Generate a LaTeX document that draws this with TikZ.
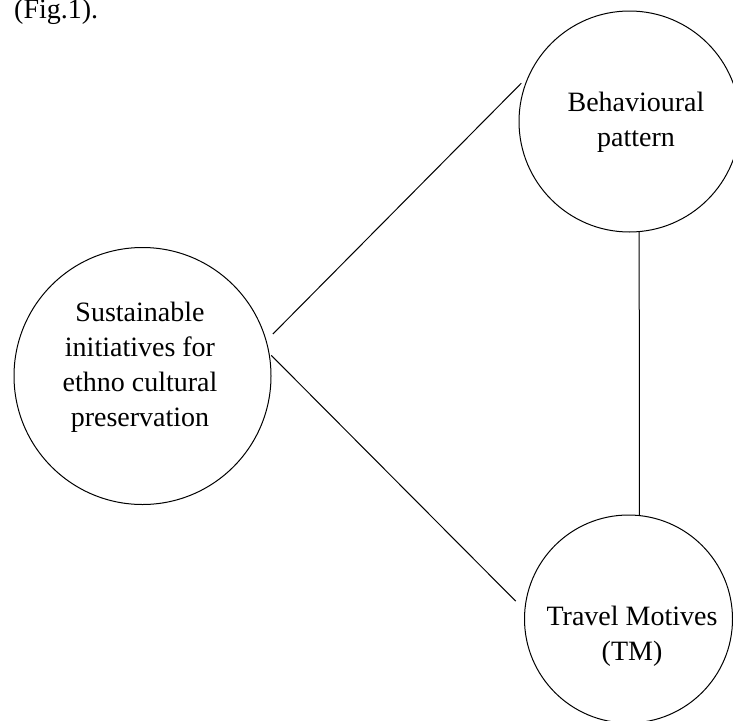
\documentclass[tikz,border=0pt]{standalone}
\usepackage{fontspec}
\setmainfont{Liberation Serif}
\begin{document}
\begin{tikzpicture}[x=1pt,y=-1pt,
  circ/.style={draw, circle, line width=1pt, inner sep=0pt},
  txt/.style={align=center, inner sep=0pt, font=\fontsize{28}{35}\selectfont},
  link/.style={line width=1pt}]
\useasboundingbox (0,0) rectangle (733,720);
\clip (0,0) rectangle (733,720);
\node[circ, minimum size=257pt] (L) at (142.5,376) {};
\node[circ, minimum size=221pt] (T) at (629.5,121.5) {};
\node[circ, minimum size=208pt] (B) at (628.5,619) {};
\node[txt] (Lt) at (140,367.5) {Sustainable\\initiatives for\\ethno cultural\\preservation};
\node[txt] (Tt) at (636,122) {Behavioural\\pattern};
\node[txt] (Bt) at (632,636) {Travel Motives\\(TM)};
\node[txt, anchor=base west] (fig) at (14,18.5) {(Fig.1).};
\draw[link, shorten <=9pt, shorten >=9.7pt] (L.16.6) -- (T.156.9);
\draw[link, shorten <=2.4pt, shorten >=12.4pt] (L.10.2) -- (B.175.5);
\draw[link] (T.-85.6) -- (B.84.8);
\end{tikzpicture}
\end{document}
